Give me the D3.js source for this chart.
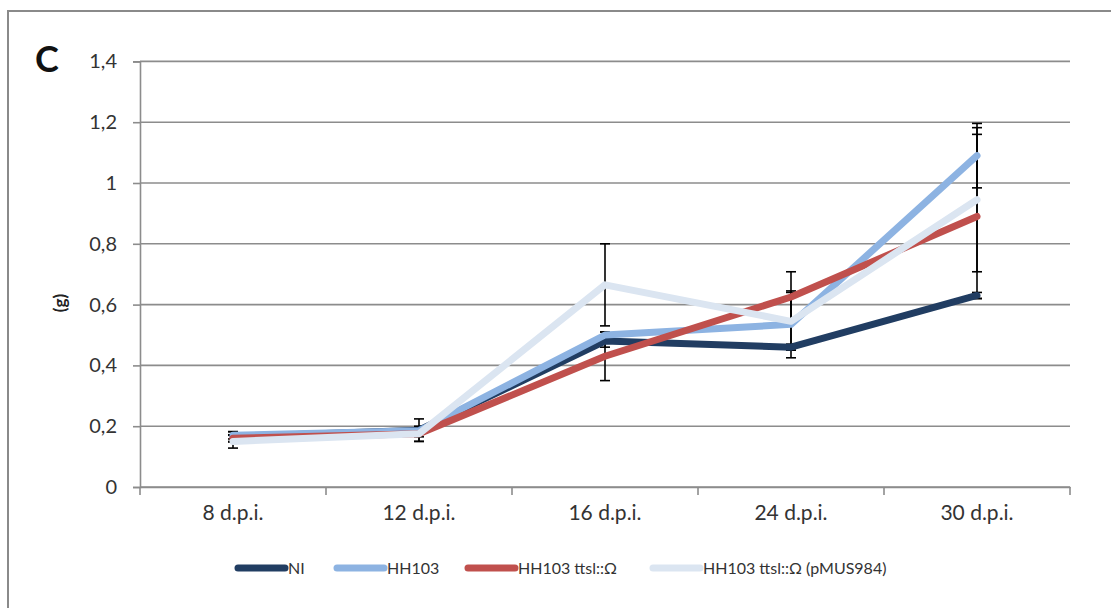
<!DOCTYPE html>
<html>
<head>
<meta charset="utf-8">
<script src="https://cdn.jsdelivr.net/npm/d3@7"></script>
<style>
  html, body { margin: 0; padding: 0; background: #fff; }
  svg { display: block; }
  text { font-family: Lato, "Open Sans", "DejaVu Sans", sans-serif; }
</style>
</head>
<body>
<svg id="chart" width="1111" height="608"></svg>
<script>
// Days post inoculation
const categories = ["8 d.p.i.", "12 d.p.i.", "16 d.p.i.", "24 d.p.i.", "30 d.p.i."];
const seriesNames = ["NI", "HH103", "HH103 ttsl::Ω", "HH103 ttsl::Ω (pMUS984)"];

// Mean weight (g) per series
const valuesNI    = [0.165, 0.187, 0.48, 0.46, 0.63];
const valuesHH103 = [0.17, 0.185, 0.50, 0.535, 1.09];
const valuesTtsl  = [0.16, 0.175, 0.43, 0.625, 0.89];
const valuesPMUS  = [0.15, 0.175, 0.665, 0.545, 0.945];

// Error amounts (±) per series
const errNI    = [0.017, 0.037, 0.02, 0.01, 0.01];
const errHH103 = [0.012, 0.01, 0.01, 0.11, 0.106];
const errTtsl  = [0.01, 0.01, 0.08, 0.083, 0.27];
const errPMUS  = [0.022, 0.025, 0.135, 0.095, 0.237];

const yTicks = [0, 0.2, 0.4, 0.6, 0.8, 1, 1.2, 1.4];
const colors = ["#213d62", "#8db3e2", "#c0504d", "#dbe5f1"];

const series = [
  { name: seriesNames[0], values: valuesNI, err: errNI, color: colors[0] },
  { name: seriesNames[1], values: valuesHH103, err: errHH103, color: colors[1] },
  { name: seriesNames[2], values: valuesTtsl, err: errTtsl, color: colors[2] },
  { name: seriesNames[3], values: valuesPMUS, err: errPMUS, color: colors[3] }
];

const svg = d3.select("#chart");

// outer chart frame
svg.append("rect")
  .attr("x", 8).attr("y", 11)
  .attr("width", 1200).attr("height", 700)
  .attr("fill", "none").attr("stroke", "#8a8a8a").attr("stroke-width", 2);

const plotLeft = 140, plotRight = 1070, plotTop = 61.4, plotBottom = 487;

const x = d3.scaleBand().domain(categories).range([plotLeft, plotRight]).padding(0);
const y = d3.scaleLinear().domain([0, 1.4]).range([plotBottom, plotTop]);

const fmt = d => d === 0 ? "0" : String(d).replace(".", ",");

// horizontal gridlines
svg.append("g")
  .selectAll("line")
  .data(yTicks)
  .join("line")
  .attr("x1", plotLeft).attr("x2", plotRight)
  .attr("y1", d => y(d)).attr("y2", d => y(d))
  .attr("stroke", "#8c8c8c").attr("stroke-width", 1.6);

// y axis
const yAxis = svg.append("g")
  .attr("transform", `translate(${plotLeft},0)`)
  .call(d3.axisLeft(y).tickValues(yTicks).tickFormat(fmt).tickSize(7).tickPadding(16));
yAxis.select(".domain").attr("stroke", "#8c8c8c").attr("stroke-width", 1.6);
yAxis.selectAll(".tick line").attr("stroke", "#8c8c8c").attr("stroke-width", 1.6);
yAxis.selectAll(".tick text")
  .attr("font-size", 20).attr("fill", "#333")
  .style("font-family", "Lato, sans-serif");

// x axis
const xAxis = svg.append("g")
  .attr("transform", `translate(0,${plotBottom})`)
  .call(d3.axisBottom(x).tickSize(0).tickPadding(18));
xAxis.select(".domain").attr("stroke", "#8c8c8c").attr("stroke-width", 1.6);
xAxis.selectAll(".tick text")
  .attr("font-size", 21).attr("fill", "#333")
  .style("font-family", "Lato, sans-serif");

// category separator ticks
const bounds = categories.map(c => x(c)).concat([plotRight]);
svg.append("g")
  .selectAll("line")
  .data(bounds)
  .join("line")
  .attr("x1", d => d).attr("x2", d => d)
  .attr("y1", plotBottom).attr("y2", plotBottom + 8)
  .attr("stroke", "#8c8c8c").attr("stroke-width", 1.6);

const cx = c => x(c) + x.bandwidth() / 2;

// error bars (drawn beneath the series lines)
const errData = [];
series.forEach(s => s.values.forEach((v, i) => {
  errData.push({ cat: categories[i], lo: v - s.err[i], hi: v + s.err[i] });
}));
const eb = svg.append("g").attr("stroke", "#000").attr("stroke-width", 1.6);
eb.selectAll("line.stem")
  .data(errData)
  .join("line")
  .attr("class", "stem")
  .attr("x1", d => cx(d.cat)).attr("x2", d => cx(d.cat))
  .attr("y1", d => y(d.lo)).attr("y2", d => y(d.hi));
eb.selectAll("line.capHi")
  .data(errData)
  .join("line")
  .attr("class", "capHi")
  .attr("x1", d => cx(d.cat) - 5).attr("x2", d => cx(d.cat) + 5)
  .attr("y1", d => y(d.hi)).attr("y2", d => y(d.hi));
eb.selectAll("line.capLo")
  .data(errData)
  .join("line")
  .attr("class", "capLo")
  .attr("x1", d => cx(d.cat) - 5).attr("x2", d => cx(d.cat) + 5)
  .attr("y1", d => y(d.lo)).attr("y2", d => y(d.lo));

// series lines
const line = d3.line()
  .x(d => cx(d.cat))
  .y(d => y(d.v));

svg.append("g")
  .selectAll("path")
  .data(series)
  .join("path")
  .attr("d", s => line(s.values.map((v, i) => ({ cat: categories[i], v }))))
  .attr("fill", "none")
  .attr("stroke", s => s.color)
  .attr("stroke-width", 7)
  .attr("stroke-linejoin", "round")
  .attr("stroke-linecap", "round");

// panel letter
svg.append("text")
  .attr("x", 47).attr("y", 72)
  .attr("text-anchor", "middle")
  .attr("font-size", 36).attr("font-weight", "bold").attr("fill", "#111")
  .text("C");

// y axis title
svg.append("text")
  .attr("transform", `translate(66,303) rotate(-90)`)
  .attr("text-anchor", "middle")
  .attr("font-size", 17).attr("font-weight", "bold").attr("fill", "#222")
  .text("(g)");

// legend
const legendX = [238, 337, 468, 653];
const legendY = 568;
const lg = svg.append("g");
series.forEach((s, i) => {
  lg.append("line")
    .attr("x1", legendX[i]).attr("x2", legendX[i] + 47)
    .attr("y1", legendY).attr("y2", legendY)
    .attr("stroke", s.color).attr("stroke-width", 7)
    .attr("stroke-linecap", "round");
  lg.append("text")
    .attr("x", legendX[i] + 50).attr("y", legendY + 6)
    .attr("font-size", 16).attr("fill", "#333")
    .text(s.name);
});
</script>
</body>
</html>
